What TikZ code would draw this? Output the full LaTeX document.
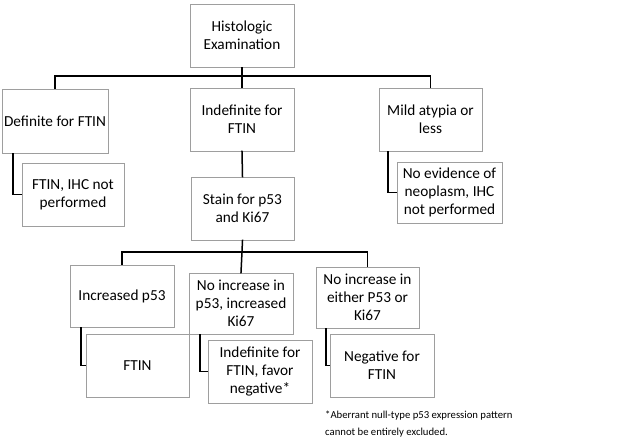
\documentclass[tikz,border=0pt]{standalone}
\usepackage{fontspec}
\setmainfont{Carlito}
\usetikzlibrary{shadows}
\begin{document}
\begin{tikzpicture}[x=1pt,y=-1pt,
  box/.style={draw=black!38, line width=0.8pt, fill=white, rectangle, align=center,
    inner sep=2pt, font=\fontsize{15.3}{18}\selectfont,
    drop shadow={shadow xshift=1.2pt, shadow yshift=-1.2pt, fill=black!25, opacity=0.6}},
  link/.style={draw=black, line width=1.5pt, line cap=rect}]
\useasboundingbox (0,0) rectangle (625,446);
\fill[white] (0,0) rectangle (625,446);
\node[box, minimum width=104pt, minimum height=63pt] (top) at (242,35.5) {Histologic\\Examination};
\node[box, minimum width=104pt, minimum height=64pt] (def) at (55,121) {Definite for FTIN};
\node[box, minimum width=104pt, minimum height=63pt] (indef) at (242,119.5) {Indefinite for\\FTIN};
\node[box, minimum width=103pt, minimum height=63pt] (mild) at (430.5,119.5) {Mild atypia or\\less};
\node[box, minimum width=102pt, minimum height=63pt] (ftinA) at (73,194.5) {FTIN, IHC not\\performed};
\node[box, minimum width=103pt, minimum height=63pt] (stain) at (242.5,208.5) {Stain for p53\\and Ki67};
\node[box, minimum width=105pt, minimum height=61pt] (noev) at (449.5,192.5) {No evidence of\\neoplasm, IHC\\not performed};
\node[box, minimum width=104pt, minimum height=62pt] (inc) at (122,296) {Increased p53};
\node[box, minimum width=104pt, minimum height=61pt] (noinc) at (241,303.5) {No increase in\\p53, increased\\Ki67};
\node[box, minimum width=103pt, minimum height=61pt] (noeither) at (367.5,297.5) {No increase in\\either P53 or\\Ki67};
\node[box, minimum width=103pt, minimum height=63pt] (ftinB) at (137.5,365.5) {FTIN};
\node[box, minimum width=104pt, minimum height=63pt] (indefB) at (260,371.5) {Indefinite for\\FTIN, favor\\negative*};
\node[box, minimum width=104pt, minimum height=63pt] (neg) at (382,365.5) {Negative for\\FTIN};
\node[anchor=north west, align=left, inner sep=0pt, font=\fontsize{10.7}{17}\selectfont] (note) at (325,411)
  {*Aberrant null-type p53 expression pattern\\cannot be entirely excluded.};
% top-level bus
\coordinate (b1) at (242,76);
\draw[link] (top.south) -- (b1);
\draw[link] (def.north) |- (b1) -| (mild.north);
\draw[link] (b1) -- (indef.north);
% L connectors
\draw[link] (def.south -| 13,0) |- (ftinA.west);
\draw[link] (mild.south -| 388,0) |- (noev.west);
\draw[link] (indef.south) -- (stain.north);
% second bus
\coordinate (b2) at (242,252);
\draw[link] (stain.south) -- (b2);
\draw[link] (inc.north) |- (b2) -| (noeither.north);
\draw[link] (b2) -- (noinc.north);
\draw[link] (inc.south -| 81,0) |- (ftinB.west);
\draw[link] (noinc.south -| 200,0) |- (indefB.west);
\draw[link] (noeither.south -| 326,0) |- (neg.west);
\end{tikzpicture}
\end{document}
